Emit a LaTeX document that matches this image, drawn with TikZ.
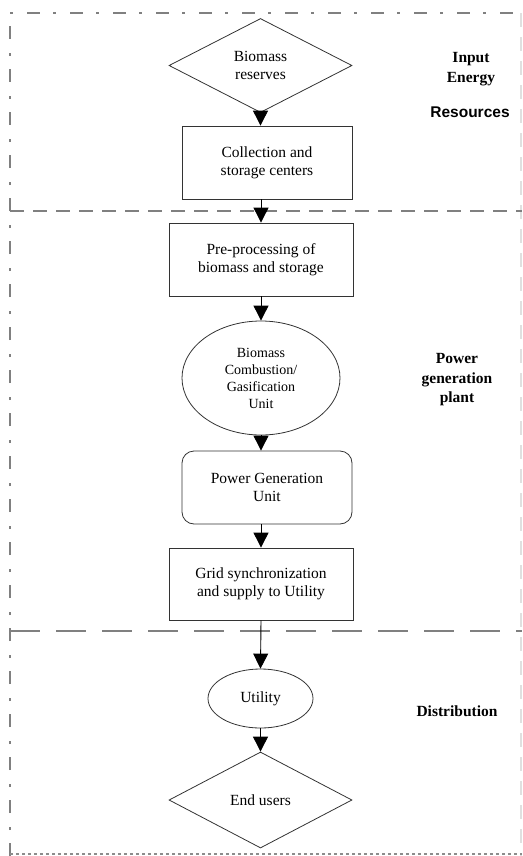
\documentclass[tikz,border=0pt]{standalone}
\usepackage{fontspec}
\setmainfont{Liberation Serif}
\newfontfamily\arialbold[BoldFont={Liberation Sans Bold}]{Liberation Sans}
\usetikzlibrary{shapes.geometric,arrows.meta}
\begin{document}
\begin{tikzpicture}[x=1pt,y=-1pt,
  shapeline/.style={draw=black!80,line width=0.8pt,inner sep=0pt,align=center,
     font=\fontsize{15.5}{18}\selectfont},
  diam/.style={shapeline,diamond,aspect=2,minimum width=183pt,minimum height=94pt},
  boxn/.style={shapeline,rectangle,minimum height=73pt},
  ell/.style={shapeline,ellipse},
  flow/.style={draw=black,line width=0.9pt,-{Triangle[length=15pt,width=15pt]}},
  lab/.style={align=center,font=\fontsize{15.5}{20}\selectfont\bfseries},
  border/.style={draw=black!50,line width=1.8pt,dash pattern=on 13pt off 13pt on 3pt off 14pt},
  sepa/.style={draw=black!50,line width=1.8pt,dash pattern=on 14pt off 9pt},
  sepb/.style={draw=black!50,line width=1.8pt,dash pattern=on 30pt off 16pt}]
\useasboundingbox (0,0) rectangle (522,856);
% frame
\draw[border] (10,856) -- (10,13) -- (522,13);
\draw[draw=black!12,line width=1.2pt,dash pattern=on 14pt off 10pt] (521,13) -- (521,856);
\draw[draw=black!45,line width=1.2pt,dash pattern=on 3pt off 3pt] (10,854) -- (522,854);
\draw[sepa] (10,211) -- (522,211);
\draw[sepb] (10,631) -- (522,631);
% nodes
\node[diam] (bio) at (260.5,65.5) {Biomass\\reserves};
\node[boxn,minimum width=170pt] (coll) at (267,162.5) {Collection and\\storage centers};
\node[boxn,minimum width=184pt] (pre) at (261,259.5) {Pre-processing of\\biomass and storage};
\node[ell,minimum width=158pt,minimum height=114pt,font=\fontsize{14}{17}\selectfont] (comb) at (261,378) {Biomass\\Combustion/\\Gasification\\Unit};
\node[boxn,minimum width=170pt,rounded corners=12pt] (pgu) at (267,487.5) {Power Generation\\Unit};
\node[boxn,minimum width=184pt,minimum height=72pt] (grid) at (261,584) {Grid synchronization\\and supply to Utility};
\node[ell,minimum width=105pt,minimum height=59pt] (util) at (260.5,698.5) {Utility};
\node[diam,minimum height=96pt] (endu) at (260.5,800) {End users};
% labels
\node[lab] (l1) at (471,69.5) {Input\\Energy};
\node[font=\fontsize{15.5}{18}\selectfont\arialbold\bfseries] (l2) at (470,112) {Resources};
\node[lab,font=\fontsize{15.5}{19.5}\selectfont\bfseries] (l3) at (457,380) {Power\\generation\\plant};
\node[lab] (l4) at (457,711) {Distribution};
% connectors
\draw[flow] (bio.south) -- (bio.south |- coll.north);
\draw[flow] (coll.south -| pre.north) -- (pre.north);
\draw[flow] (pre.south) -- (comb.north);
\draw[flow] (comb.south) -- (comb.south |- pgu.north);
\draw[flow] (pgu.south -| grid.north) -- (grid.north);
\draw[flow] (grid.south) -- (util.north);
\draw[flow] (util.south) -- (endu.north);
\end{tikzpicture}
\end{document}
